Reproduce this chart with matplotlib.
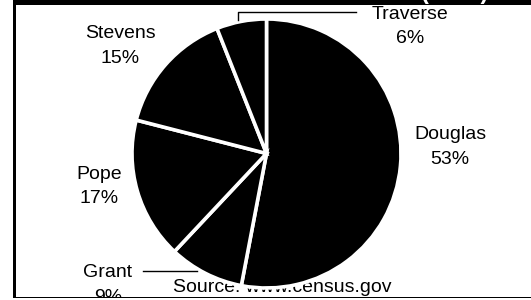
import matplotlib.pyplot as plt
from matplotlib.patches import Rectangle

plt.rcParams['font.family'] = ['Liberation Sans', 'DejaVu Sans']

counties = ['Douglas', 'Grant', 'Pope', 'Stevens', 'Traverse']
shares = [53, 9, 17, 15, 6]

W, H = 531, 300
fig = plt.figure(figsize=(W / 100, H / 100), dpi=100)


def fx(x):
    return x / W


def fy(y):
    return 1 - y / H


# plot area inside the frame, data units = pixels (y measured upward)
ax = fig.add_axes([fx(16), 3 / H, (W - 16) / W, (H - 3 - 4.5) / H])

# source note sits under the pie
ax.text(282, 300 - 287, 'Source: www.census.gov', ha='center', va='center',
        fontsize=14, zorder=1, clip_on=True)

ax.pie(shares, startangle=90, counterclock=False, colors=['black'] * len(shares),
       center=(266.5, 300 - 153.5), radius=134.5,
       wedgeprops=dict(edgecolor='white', linewidth=2.6, zorder=2))

ax.set_xlim(16, W)
ax.set_ylim(3, H - 4.5)
ax.set_aspect('auto')
ax.axis('off')

# label positions (pixels, centre of the two-line block)
label_pos = [(450, 147), (108, 285), (99, 186.5), (120, 46), (410, 26.5)]
for name, pct, (x, y) in zip(counties, shares, label_pos):
    ax.text(x, 300 - y, f'{name}\n{pct}%', ha='center', va='center',
            fontsize=14, linespacing=1.6, zorder=3, clip_on=True)

# leader lines
ax.plot([238, 238, 356], [300 - 20, 300 - 12, 300 - 12], color='black', lw=1, zorder=3)
ax.plot([143, 197], [300 - 271, 300 - 271], color='black', lw=1, zorder=3)

# frame and cut-off title band
fig.add_artist(Rectangle((fx(13), fy(4.5)), 1 - fx(13), 4.5 / H, transform=fig.transFigure,
                         facecolor='black', edgecolor='none'))
fig.add_artist(Rectangle((fx(13), fy(298)), 3 / W, 298 / H, transform=fig.transFigure,
                         facecolor='black', edgecolor='none'))
fig.add_artist(Rectangle((fx(13), fy(298)), 1 - fx(13), 1.5 / H, transform=fig.transFigure,
                         facecolor='black', edgecolor='none'))
fig.text(fx(455), fy(-1), '(2010)', ha='center', va='baseline', color='white',
         fontsize=17, fontweight='bold')

fig.savefig('out.png', dpi=100)
